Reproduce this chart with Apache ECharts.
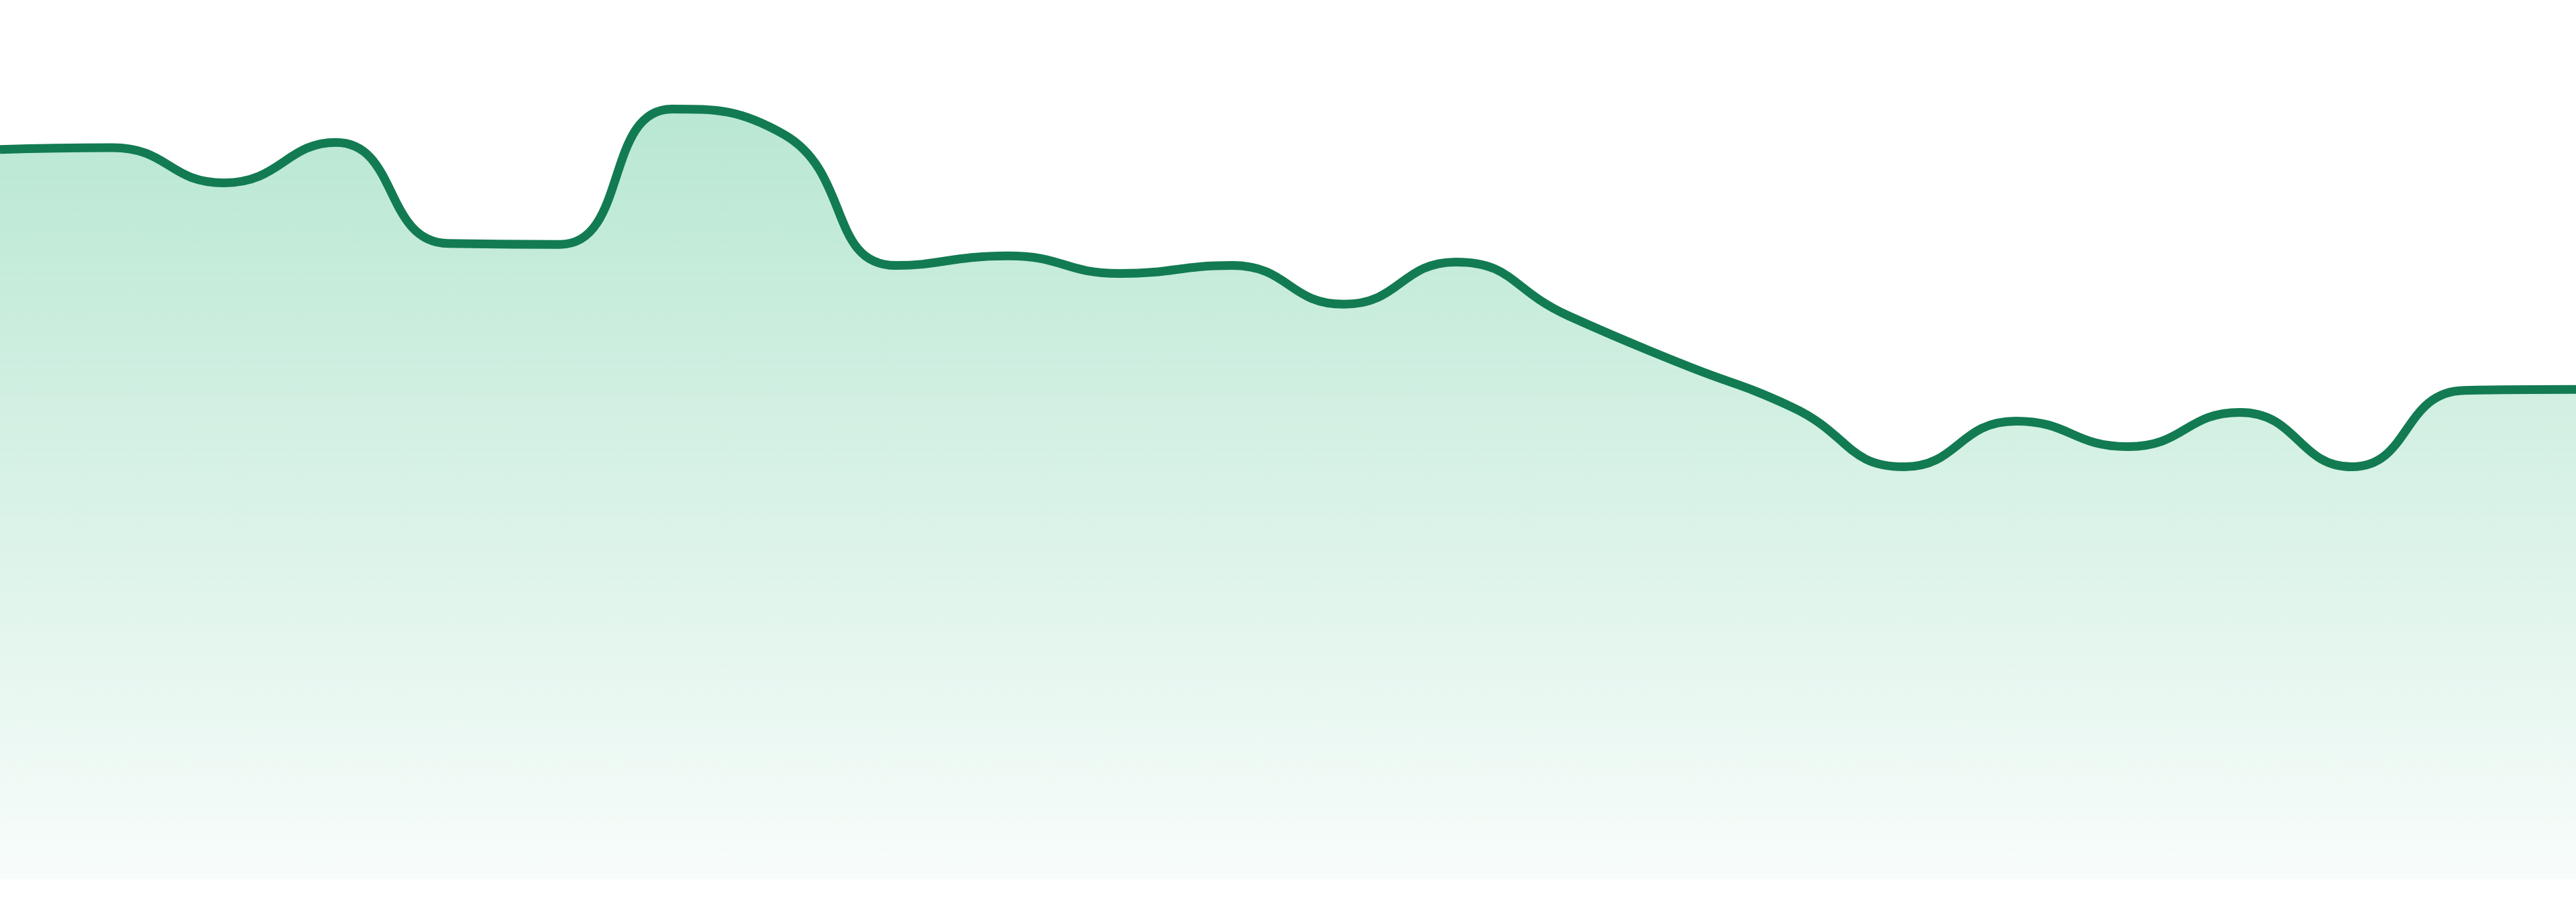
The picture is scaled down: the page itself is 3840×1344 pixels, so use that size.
<!DOCTYPE html>
<html>
<head>
<meta charset="utf-8">
<title>area</title>
<script src="https://cdn.jsdelivr.net/npm/echarts@6/dist/echarts.min.js"></script>
<style>
  html, body { margin: 0; padding: 0; background: #fff; }
  #main { width: 3840px; height: 1344px; }
</style>
</head>
<body>
<div id="main"></div>
<script>
// hourly points, no axes shown
var hours = ['00:00','01:00','02:00','03:00','04:00','05:00','06:00','07:00',
             '08:00','09:00','10:00','11:00','12:00','13:00','14:00','15:00',
             '16:00','17:00','18:00','19:00','20:00','21:00','22:00','23:00'];
var values = [83.0, 83.2, 79.2, 83.8, 72.3, 72.2, 87.6, 84.7,
              69.8, 70.9, 68.9, 69.8, 65.4, 70.2, 64.1, 58.7,
              53.7, 46.9, 52.1, 49.2, 53.1, 46.9, 55.6, 55.7];
var yMin = 0, yMax = 100;

var myChart = echarts.init(document.getElementById('main'));
var option = {
  animation: false,
  grid: { left: 0, right: 0, top: 0, bottom: 34 },
  xAxis: {
    type: 'category',
    boundaryGap: false,
    data: hours,
    show: false
  },
  yAxis: {
    type: 'value',
    min: yMin,
    max: yMax,
    show: false
  },
  series: [
    {
      type: 'line',
      data: values,
      smooth: true,
      symbol: 'none',
      lineStyle: { color: '#127b52', width: 13 },
      areaStyle: {
        opacity: 1,
        color: new echarts.graphic.LinearGradient(0, 0, 0, 1, [
          { offset: 0, color: 'rgba(28,178,112,0.31)' },
          { offset: 1, color: 'rgba(28,178,112,0.03)' }
        ])
      }
    }
  ]
};
myChart.setOption(option);
</script>
</body>
</html>
